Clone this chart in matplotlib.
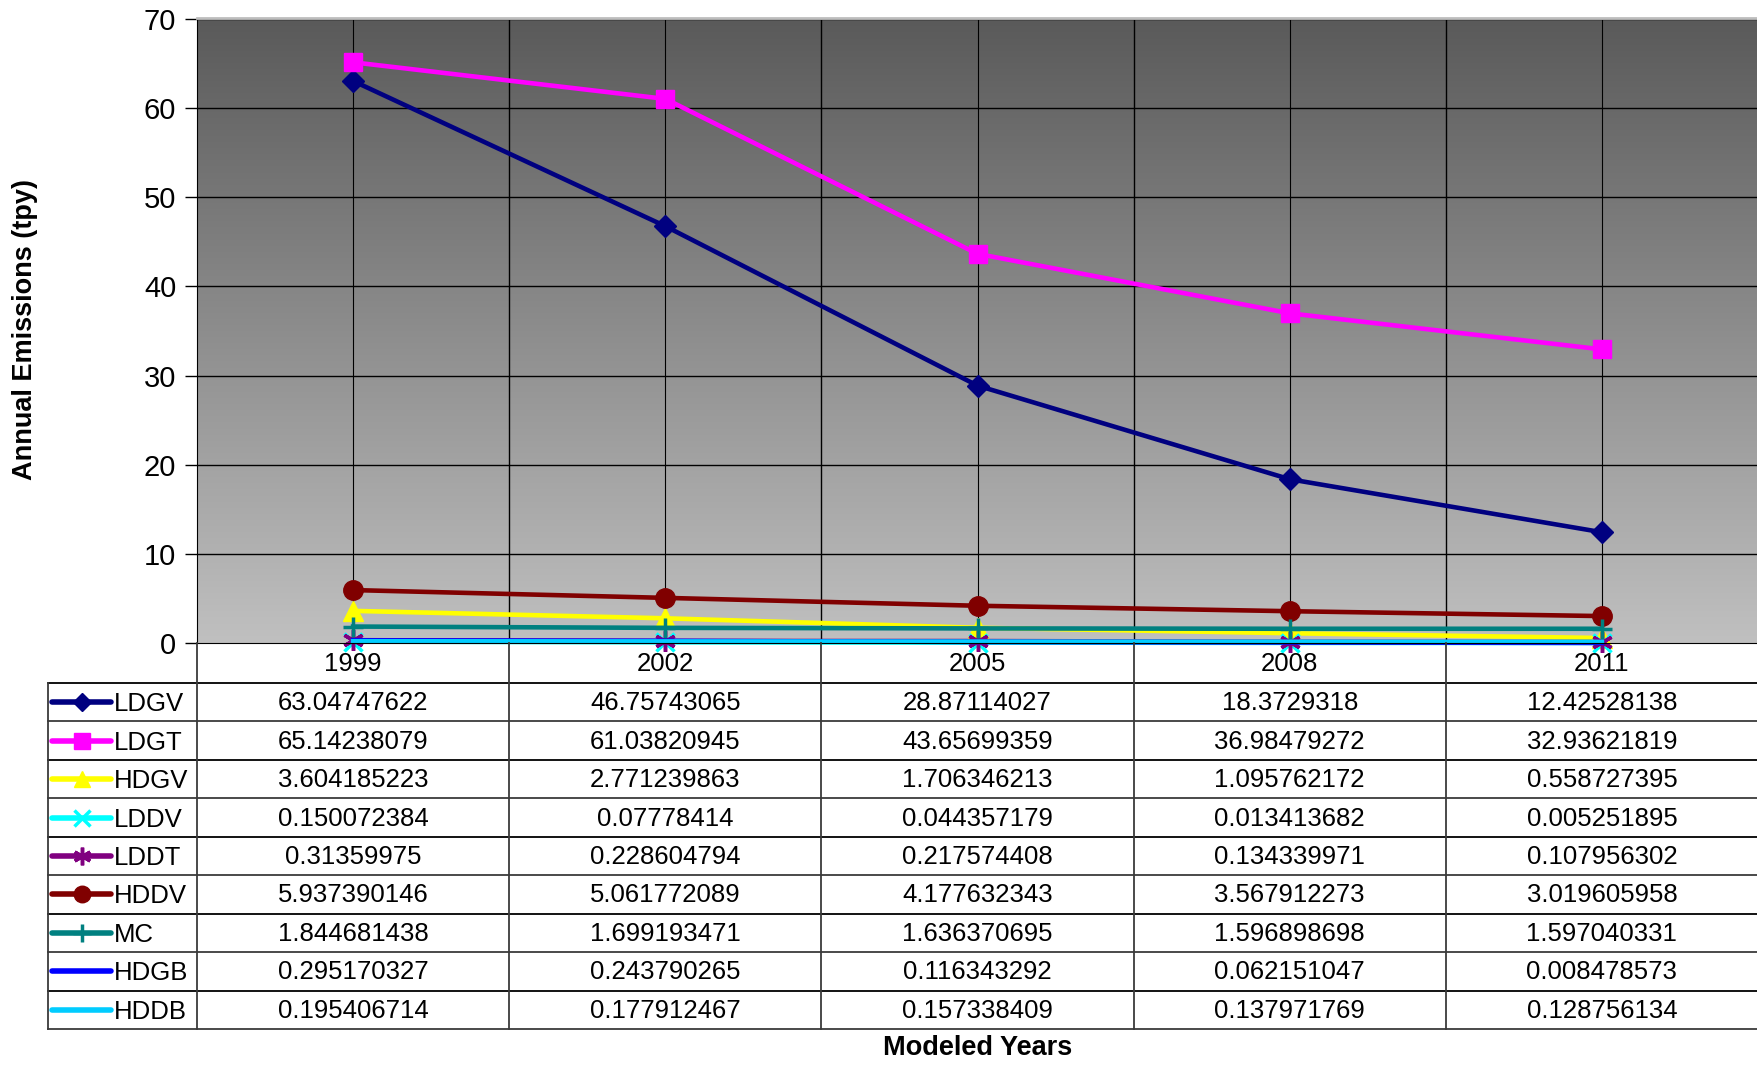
import numpy as np
import matplotlib
matplotlib.use("Agg")
import matplotlib.pyplot as plt
from matplotlib.colors import LinearSegmentedColormap

plt.rcParams['font.family'] = ['Liberation Sans', 'DejaVu Sans']

years = ["1999", "2002", "2005", "2008", "2011"]
series_names = ["LDGV", "LDGT", "HDGV", "LDDV", "LDDT", "HDDV", "MC", "HDGB", "HDDB"]
LDGV = [63.04747622, 46.75743065, 28.87114027, 18.3729318, 12.42528138]
LDGT = [65.14238079, 61.03820945, 43.65699359, 36.98479272, 32.93621819]
HDGV = [3.604185223, 2.771239863, 1.706346213, 1.095762172, 0.558727395]
LDDV = [0.150072384, 0.07778414, 0.044357179, 0.013413682, 0.005251895]
LDDT = [0.31359975, 0.228604794, 0.217574408, 0.134339971, 0.107956302]
HDDV = [5.937390146, 5.061772089, 4.177632343, 3.567912273, 3.019605958]
MC = [1.844681438, 1.699193471, 1.636370695, 1.596898698, 1.597040331]
HDGB = [0.295170327, 0.243790265, 0.116343292, 0.062151047, 0.008478573]
HDDB = [0.195406714, 0.177912467, 0.157338409, 0.137971769, 0.128756134]
table_text = {
    "LDGV": ["63.04747622", "46.75743065", "28.87114027", "18.3729318", "12.42528138"],
    "LDGT": ["65.14238079", "61.03820945", "43.65699359", "36.98479272", "32.93621819"],
    "HDGV": ["3.604185223", "2.771239863", "1.706346213", "1.095762172", "0.558727395"],
    "LDDV": ["0.150072384", "0.07778414", "0.044357179", "0.013413682", "0.005251895"],
    "LDDT": ["0.31359975", "0.228604794", "0.217574408", "0.134339971", "0.107956302"],
    "HDDV": ["5.937390146", "5.061772089", "4.177632343", "3.567912273", "3.019605958"],
    "MC": ["1.844681438", "1.699193471", "1.636370695", "1.596898698", "1.597040331"],
    "HDGB": ["0.295170327", "0.243790265", "0.116343292", "0.062151047", "0.008478573"],
    "HDDB": ["0.195406714", "0.177912467", "0.157338409", "0.137971769", "0.128756134"],
}
data = [LDGV, LDGT, HDGV, LDDV, LDDT, HDDV, MC, HDGB, HDDB]

styles = {
    "LDGV": dict(color="#000080", marker="D", ms=11),
    "LDGT": dict(color="#ff00ff", marker="s", ms=13),
    "HDGV": dict(color="#ffff00", marker="^", ms=14),
    "LDDV": dict(color="#00ffff", marker="x", ms=13, mew=2.5),
    "LDDT": dict(color="#800080", marker=(6, 2, 0), ms=15, mew=2.5),
    "HDDV": dict(color="#800000", marker="o", ms=14),
    "MC": dict(color="#008080", marker="+", ms=15, mew=2.5),
    "HDGB": dict(color="#0000ff", marker=None, ms=0),
    "HDDB": dict(color="#00ccff", marker=None, ms=0),
}

W, H = 1758, 1065
fig = plt.figure(figsize=(W / 100, H / 100), dpi=100)

def rect(x0, y0, x1, y1):
    return [x0 / W, 1 - y1 / H, (x1 - x0) / W, (y1 - y0) / H]

PL, PT, PR, PB = 197, 19, 1758, 643
ax = fig.add_axes(rect(PL, PT, PR, PB))
ax.set_xlim(-0.5, 4.5)
ax.set_ylim(0, 70)

# gradient background
cmap = LinearSegmentedColormap.from_list("g", ["#c0c0c0", "#5a5a5a"])
grad = np.linspace(0, 1, 256).reshape(-1, 1)
ax.imshow(grad, cmap=cmap, extent=(-0.5, 4.5, 0, 70), origin="lower",
          aspect="auto", zorder=0)

x = np.arange(len(years))
for v in range(10, 71, 10):
    ax.axhline(v, color="black", lw=1, zorder=1)
for xi in x:
    ax.axvline(xi, color="black", lw=0.8, zorder=1)
for xb in np.arange(0.5, 4.5, 1.0):
    ax.axvline(xb, color="black", lw=1, zorder=1)

for name, vals in zip(series_names, data):
    st = styles[name]
    ax.plot(x, vals, color=st["color"], lw=3.3, marker=st["marker"],
            ms=st["ms"], mew=st.get("mew", 1), mfc=st["color"], mec=st["color"],
            zorder=3, clip_on=False)

ax.set_yticks(range(0, 71, 10))
ax.set_yticklabels([str(v) for v in range(0, 71, 10)], fontsize=21)
ax.tick_params(axis="y", length=9, width=1, pad=6, direction="out")
ax.set_xticks([])
for s in ["top", "right"]:
    ax.spines[s].set_visible(False)
ax.spines["left"].set_color("black")
ax.spines["bottom"].set_color("black")
ax.spines["bottom"].set_zorder(4)
# top light border
fig.add_artist(plt.Line2D([PL / W, 1], [1 - (PT - 1) / H] * 2, color="#bdbdbd", lw=2))

fig.text(25 / W, 1 - 330 / H, "Annual Emissions (tpy)", rotation=90,
         ha="center", va="center", fontsize=19.5, fontweight="bold")

# table axes: y in pixel units
TB = 1029
tax = fig.add_axes(rect(PL, PB, PR, TB))
tax.set_xlim(-0.5, 4.5)
tax.set_ylim(TB, PB)
tax.axis("off")

unit = (PR - PL) / 5.0
x_leg_left = -0.5 - (PL - 48) / unit
row_top = 683
row_h = (TB - row_top) / 9.0

# years row
for xi, yr in zip(x, years):
    tax.text(xi, 664, yr, ha="center", va="center", fontsize=18.5)

# horizontal lines
tax.plot([x_leg_left - 0.0, 4.5], [row_top, row_top], color="black", lw=1.3, clip_on=False)
for i in range(1, 10):
    yy = row_top + i * row_h
    tax.plot([x_leg_left, 4.5], [yy, yy], color="#3a3a3a" if i % 2 else "black",
             lw=1.3, clip_on=False)
# vertical lines
tax.plot([x_leg_left, x_leg_left], [row_top, TB], color="#3a3a3a", lw=1.3, clip_on=False)
tax.plot([-0.5, -0.5], [PB, TB], color="#3a3a3a", lw=1.3, clip_on=False)
for xb in np.arange(0.5, 4.5, 1.0):
    tax.plot([xb, xb], [PB, TB], color="#3a3a3a", lw=1.3, clip_on=False)

# rows
for i, (name, vals) in enumerate(zip(series_names, data)):
    yc = row_top + (i + 0.5) * row_h
    st = styles[name]
    lx0 = -0.5 - (PL - 52) / unit
    lx1 = -0.5 - (PL - 111) / unit
    lxm = -0.5 - (PL - 82) / unit
    tax.plot([lx0, lx1], [yc, yc], color=st["color"], lw=4, clip_on=False,
             solid_capstyle="round")
    if st["marker"] is not None:
        tax.plot([lxm], [yc], marker=st["marker"], ms=st["ms"] * 0.85,
                 mew=st.get("mew", 1), color=st["color"], mfc=st["color"],
                 mec=st["color"], clip_on=False)
    tax.text(-0.5 - (PL - 114) / unit, yc + 2, name, ha="left", va="center", fontsize=18.5)
    for xi, s in zip(x, table_text[name]):
        tax.text(xi, yc + 1, s, ha="center", va="center", fontsize=18.5)

fig.text((PL + PR) / 2 / W, 1 - 1048 / H, "Modeled Years", ha="center", va="center",
         fontsize=19.5, fontweight="bold")

fig.savefig("out.png", dpi=100)
